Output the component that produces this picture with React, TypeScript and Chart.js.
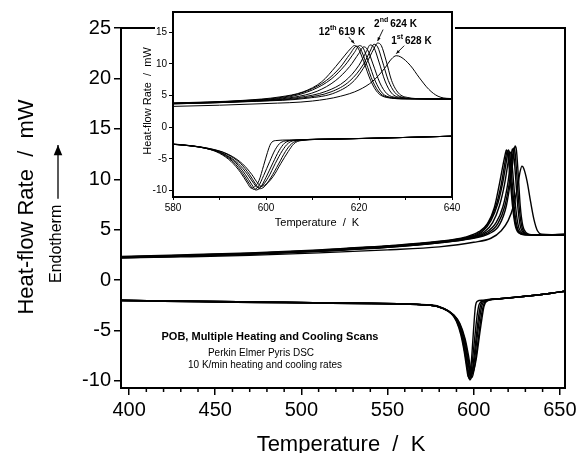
import React, { useEffect, useRef } from 'react';
import { Chart, registerables } from 'chart.js';

Chart.register(...registerables);

const FONT = "'Liberation Sans', Arial, Helvetica, sans-serif";

// ---- axis ticks ----
const mainXTicks = [400, 450, 500, 550, 600, 650];
const mainXMinor = [410, 420, 430, 440, 460, 470, 480, 490, 510, 520, 530, 540, 560, 570, 580, 590, 610, 620, 630, 640];
const mainYTicks = [-10, -5, 0, 5, 10, 15, 20, 25];
const insetXTicks = [580, 590, 600, 610, 620, 630, 640];
const insetYTicks = [-10, -5, 0, 5, 10, 15];

// ---- heating scans (temperature K, heat flow mW) ----
const heat1T = [395, 430, 470, 510, 550, 580, 600, 610, 616, 620, 623, 625.5, 627, 628, 629, 631, 633, 635, 637, 639.5, 645, 653];
const heat1V = [2.2, 2.3, 2.45, 2.7, 3.0, 3.3, 3.75, 4.15, 4.9, 5.9, 7.3, 9.3, 10.8, 11.3, 11.1, 9.8, 7.8, 6.0, 4.9, 4.55, 4.5, 4.55];
const heat2T = [395, 430, 470, 510, 550, 580, 598, 609, 615, 619, 621.5, 623.2, 624, 624.8, 625.8, 627, 628.5, 630.5, 634, 640, 653];
const heat2V = [2.2, 2.35, 2.55, 2.85, 3.25, 3.7, 4.1, 4.6, 5.5, 7.4, 10.0, 12.4, 13.3, 12.9, 10.6, 7.4, 5.4, 4.7, 4.5, 4.45, 4.5];
const heat3T = [395, 430, 470, 510, 550, 580, 597, 608, 614, 618, 621, 622.5, 623.2, 624, 625, 626.3, 627.7, 629.5, 633, 640, 653];
const heat3V = [2.2, 2.35, 2.55, 2.85, 3.25, 3.7, 4.1, 4.65, 5.6, 7.3, 10.0, 12.2, 13.1, 12.7, 10.5, 7.4, 5.5, 4.7, 4.5, 4.45, 4.5];
const heat4T = [395, 430, 470, 510, 550, 580, 597, 607, 613, 617, 620, 621.6, 622.4, 623.2, 624.3, 625.6, 627, 629, 633, 640, 653];
const heat4V = [2.25, 2.4, 2.6, 2.9, 3.3, 3.75, 4.15, 4.7, 5.7, 7.3, 9.8, 12.0, 13.0, 12.6, 10.3, 7.3, 5.4, 4.7, 4.5, 4.45, 4.5];
const heat6T = [395, 430, 470, 510, 550, 580, 596, 606, 611, 615, 618, 620, 621, 621.8, 623, 624.5, 626, 628, 632, 640, 653];
const heat6V = [2.25, 2.4, 2.6, 2.9, 3.3, 3.75, 4.15, 4.75, 5.7, 7.4, 9.6, 11.7, 12.7, 12.3, 10.0, 7.0, 5.3, 4.7, 4.5, 4.45, 4.5];
const heat8T = [395, 430, 470, 510, 550, 580, 596, 605, 610, 614, 617, 619, 620.1, 620.9, 622, 623.5, 625, 627, 631, 640, 653];
const heat8V = [2.3, 2.45, 2.65, 2.95, 3.35, 3.8, 4.2, 4.8, 5.9, 7.6, 9.8, 11.8, 12.9, 12.5, 10.4, 7.3, 5.4, 4.7, 4.5, 4.5, 4.5];
const heat10T = [395, 430, 470, 510, 550, 580, 595, 604, 609, 613, 616, 618, 619.5, 620.3, 621.5, 623, 624.5, 626.5, 630, 640, 653];
const heat10V = [2.3, 2.45, 2.65, 2.95, 3.35, 3.8, 4.2, 4.8, 5.8, 7.4, 9.5, 11.5, 12.8, 12.4, 10.2, 7.2, 5.4, 4.7, 4.5, 4.5, 4.5];
const heat12T = [395, 430, 470, 510, 550, 580, 595, 603, 608, 612, 615, 617, 618.3, 619.0, 619.8, 621, 622.5, 624, 626, 630, 640, 653];
const heat12V = [2.35, 2.5, 2.7, 3.0, 3.4, 3.85, 4.25, 4.8, 5.6, 7.2, 9.6, 11.4, 12.5, 12.9, 12.5, 10.4, 7.4, 5.5, 4.7, 4.5, 4.5, 4.55];

// ---- cooling scans ----
const coolAT = [395, 440, 490, 540, 575, 582, 587, 590, 592.5, 594.5, 596, 596.8, 597.8, 598.5, 599.5, 600.3, 601, 602, 605, 615, 630, 645, 653];
const coolAV = [-2.0, -2.1, -2.2, -2.3, -2.45, -2.75, -3.3, -4.1, -5.4, -7.1, -8.8, -9.6, -9.2, -8.4, -6.0, -4.0, -2.6, -2.1, -2.0, -1.85, -1.6, -1.3, -1.1];
const coolBT = [395, 440, 490, 540, 575, 582, 587, 590, 593, 595, 596.5, 597.3, 598.3, 599.5, 600.8, 602, 603.2, 605.5, 615, 630, 645, 653];
const coolBV = [-2.05, -2.15, -2.25, -2.35, -2.5, -2.8, -3.3, -4.0, -5.5, -7.3, -9.0, -9.8, -9.4, -7.6, -5.4, -3.5, -2.4, -2.05, -1.85, -1.6, -1.3, -1.1];
const coolCT = [395, 440, 490, 540, 575, 582, 587, 590.5, 593.5, 595.5, 597, 597.8, 598.8, 600, 601.5, 602.8, 604, 606, 615, 630, 645, 653];
const coolCV = [-2.0, -2.1, -2.2, -2.3, -2.5, -2.8, -3.3, -4.1, -5.6, -7.4, -9.1, -9.9, -9.5, -7.9, -5.6, -3.7, -2.5, -2.05, -1.85, -1.6, -1.3, -1.1];
const coolDT = [395, 440, 490, 540, 575, 582, 587.5, 591, 594, 596, 597.4, 598.2, 599.2, 600.5, 602, 603.5, 604.8, 606.5, 615, 630, 645, 653];
const coolDV = [-2.05, -2.15, -2.25, -2.35, -2.5, -2.8, -3.4, -4.2, -5.7, -7.4, -8.9, -9.5, -9.2, -7.9, -5.7, -3.7, -2.5, -2.05, -1.85, -1.6, -1.3, -1.1];
const coolET = [395, 440, 490, 540, 575, 583, 588, 591.5, 594.5, 596.5, 597.8, 598.6, 599.6, 601, 602.7, 604.2, 605.5, 607, 615, 630, 645, 653];
const coolEV = [-2.0, -2.1, -2.2, -2.3, -2.5, -2.85, -3.4, -4.2, -5.7, -7.5, -9.0, -9.7, -9.4, -8.0, -5.8, -3.8, -2.6, -2.1, -1.85, -1.6, -1.3, -1.1];
const coolFT = [395, 440, 490, 540, 575, 583, 588.5, 592, 595, 597, 598.2, 599, 600, 601.5, 603.2, 604.8, 606, 607.5, 615, 630, 645, 653];
const coolFV = [-2.0, -2.1, -2.2, -2.3, -2.5, -2.85, -3.45, -4.3, -5.8, -7.5, -8.8, -9.3, -9.0, -7.8, -5.7, -3.8, -2.6, -2.1, -1.85, -1.6, -1.3, -1.1];

// ---- inset peak annotations ----
const annoMain = ['12', '2', '1'];
const annoSup = ['th', 'nd', 'st'];
const annoRest = ['619 K', '624 K', '628 K'];
const annoPeakT = [619, 624, 628];
const annoPeakV = [12.9, 13.3, 11.3];

const scans: [number[], number[]][] = [
  [heat1T, heat1V], [heat2T, heat2V], [heat3T, heat3V], [heat4T, heat4V],
  [heat6T, heat6V], [heat8T, heat8V], [heat10T, heat10V], [heat12T, heat12V],
  [coolAT, coolAV], [coolBT, coolBV], [coolCT, coolCV], [coolDT, coolDV], [coolET, coolEV], [coolFT, coolFV],
];

function makeDatasets(width: number) {
  return scans.map(([T, V]) => ({
    data: T.map((t, i) => ({ x: t, y: V[i] })),
    borderColor: '#000',
    borderWidth: width,
    pointRadius: 0,
    fill: false,
    cubicInterpolationMode: 'monotone' as const,
  }));
}

function arrow(ctx: CanvasRenderingContext2D, x1: number, y1: number, x2: number, y2: number, head: number) {
  ctx.beginPath();
  ctx.moveTo(x1, y1);
  ctx.lineTo(x2, y2);
  ctx.stroke();
  const a = Math.atan2(y2 - y1, x2 - x1);
  ctx.beginPath();
  ctx.moveTo(x2, y2);
  ctx.lineTo(x2 - head * Math.cos(a - 0.4), y2 - head * Math.sin(a - 0.4));
  ctx.lineTo(x2 - head * Math.cos(a + 0.4), y2 - head * Math.sin(a + 0.4));
  ctx.closePath();
  ctx.fill();
}

const mainDecor = {
  id: 'mainDecor',
  afterDraw(chart: any) {
    const { ctx, chartArea: a } = chart;
    ctx.save();
    ctx.strokeStyle = '#000';
    ctx.fillStyle = '#000';
    ctx.lineWidth = 2;
    ctx.strokeRect(a.left, a.top, a.right - a.left, a.bottom - a.top);
    const xs = chart.scales.x;
    ctx.lineWidth = 1.5;
    for (const v of mainXMinor) {
      const px = xs.getPixelForValue(v);
      ctx.beginPath();
      ctx.moveTo(px, a.bottom);
      ctx.lineTo(px, a.bottom + 4);
      ctx.stroke();
    }
    // y title
    ctx.save();
    ctx.translate(27, 207);
    ctx.rotate(-Math.PI / 2);
    ctx.font = `22px ${FONT}`;
    ctx.textAlign = 'center';
    ctx.textBaseline = 'middle';
    ctx.fillText('Heat-flow Rate  /  mW', 0, 0);
    ctx.restore();
    // Endotherm arrow
    ctx.save();
    ctx.translate(57, 283);
    ctx.rotate(-Math.PI / 2);
    ctx.font = `16px ${FONT}`;
    ctx.textAlign = 'left';
    ctx.textBaseline = 'middle';
    ctx.fillText('Endotherm', 0, 0);
    const w = ctx.measureText('Endotherm').width;
    ctx.lineWidth = 1.3;
    arrow(ctx, w + 6, 1, 283 - 145, 1, 11);
    ctx.restore();
    // x title
    ctx.font = `22px ${FONT}`;
    ctx.textAlign = 'center';
    ctx.textBaseline = 'alphabetic';
    ctx.fillText('Temperature  /  K', 341, 451);
    // annotations
    ctx.font = `bold 11px ${FONT}`;
    ctx.fillText('POB, Multiple Heating and Cooling Scans', 270, 340);
    ctx.font = `10px ${FONT}`;
    ctx.fillText('Perkin Elmer Pyris DSC', 261, 356);
    ctx.fillText('10 K/min heating and cooling rates', 265, 368);
    ctx.restore();
  },
};

const insetDecor = {
  id: 'insetDecor',
  beforeDraw(chart: any) {
    const { ctx } = chart;
    ctx.save();
    ctx.fillStyle = '#fff';
    ctx.fillRect(19, 0, 300, chart.height);
    ctx.restore();
  },
  afterDraw(chart: any) {
    const { ctx, chartArea: a } = chart;
    const xs = chart.scales.x;
    const ys = chart.scales.y;
    ctx.save();
    ctx.strokeStyle = '#000';
    ctx.fillStyle = '#000';
    ctx.lineWidth = 2;
    ctx.strokeRect(a.left, a.top, a.right - a.left, a.bottom - a.top);
    // titles
    ctx.save();
    ctx.translate(12, 101);
    ctx.rotate(-Math.PI / 2);
    ctx.font = `11px ${FONT}`;
    ctx.textAlign = 'center';
    ctx.textBaseline = 'middle';
    ctx.fillText('Heat-flow Rate  /  mW', 0, 0);
    ctx.restore();
    ctx.font = `11px ${FONT}`;
    ctx.textAlign = 'center';
    ctx.textBaseline = 'alphabetic';
    ctx.fillText('Temperature  /  K', 181, 226);
    // peak labels
    const labelOff = [[-35.5, -8.5], [-3.5, -14.5], [-5, -10]];
    const tailOff = [[-5.5, -6.5], [5.5, -11.5], [8, -8]];
    ctx.textAlign = 'left';
    ctx.lineWidth = 0.9;
    for (let i = 0; i < annoMain.length; i++) {
      const tx = xs.getPixelForValue(annoPeakT[i]);
      const ty = ys.getPixelForValue(annoPeakV[i]) - 2;
      let x = tx + labelOff[i][0];
      const y = ty + labelOff[i][1];
      ctx.font = `bold 10px ${FONT}`;
      ctx.fillText(annoMain[i], x, y);
      x += ctx.measureText(annoMain[i]).width;
      ctx.font = `bold 7px ${FONT}`;
      ctx.fillText(annoSup[i], x, y - 5);
      x += ctx.measureText(annoSup[i]).width + 2;
      ctx.font = `bold 10px ${FONT}`;
      ctx.fillText(annoRest[i], x, y);
      arrow(ctx, tx + tailOff[i][0], ty + tailOff[i][1], tx, ty, 4);
    }
    ctx.restore();
  },
};

export default function App() {
  const mainRef = useRef<HTMLCanvasElement | null>(null);
  const insetRef = useRef<HTMLCanvasElement | null>(null);

  useEffect(() => {
    const main = new Chart(mainRef.current as HTMLCanvasElement, {
      type: 'line',
      data: { datasets: makeDatasets(1.4) as any },
      options: {
        animation: false,
        responsive: false,
        devicePixelRatio: 1,
        events: [],
        layout: { padding: { left: 0, top: 28, right: 12, bottom: 0 } },
        plugins: { legend: { display: false }, tooltip: { enabled: false } },
        scales: {
          x: {
            type: 'linear',
            min: 395.3,
            max: 653,
            afterBuildTicks: (s: any) => { s.ticks = mainXTicks.map((v) => ({ value: v })); },
            afterFit: (s: any) => { s.height = 65; s.paddingLeft = 0; s.paddingRight = 0; },
            ticks: { font: { family: FONT, size: 20 }, color: '#000', padding: 3, maxRotation: 0, autoSkip: false },
            grid: { drawOnChartArea: false, drawTicks: true, tickLength: 7, color: '#000', lineWidth: 1.5 },
            border: { display: true, color: '#000', width: 2 },
          },
          y: {
            type: 'linear',
            min: -10.7,
            max: 25,
            afterBuildTicks: (s: any) => { s.ticks = mainYTicks.map((v) => ({ value: v })); },
            afterFit: (s: any) => { s.width = 121; s.paddingTop = 0; s.paddingBottom = 0; },
            ticks: { font: { family: FONT, size: 20 }, color: '#000', padding: 3, autoSkip: false },
            grid: { drawOnChartArea: false, drawTicks: true, tickLength: 7, color: '#000', lineWidth: 1.5 },
            border: { display: true, color: '#000', width: 2 },
          },
        },
      } as any,
      plugins: [mainDecor],
    });

    const inset = new Chart(insetRef.current as HTMLCanvasElement, {
      type: 'line',
      data: { datasets: makeDatasets(1) as any },
      options: {
        animation: false,
        responsive: false,
        devicePixelRatio: 1,
        events: [],
        layout: { padding: { left: 0, top: 12, right: 10, bottom: 0 } },
        plugins: { legend: { display: false }, tooltip: { enabled: false } },
        scales: {
          x: {
            type: 'linear',
            min: 580,
            max: 640,
            afterBuildTicks: (s: any) => { s.ticks = insetXTicks.map((v) => ({ value: v })); },
            afterFit: (s: any) => { s.height = 35; s.paddingLeft = 0; s.paddingRight = 0; },
            ticks: {
              font: { family: FONT, size: 10 }, color: '#000', padding: 2, maxRotation: 0, autoSkip: false,
              callback: (v: any) => (Number(v) % 20 === 0 ? String(v) : ''),
            },
            grid: { drawOnChartArea: false, drawTicks: true, tickLength: 3, color: '#000', lineWidth: 1 },
            border: { display: true, color: '#000', width: 2 },
          },
          y: {
            type: 'linear',
            min: -11,
            max: 18.2,
            afterBuildTicks: (s: any) => { s.ticks = insetYTicks.map((v) => ({ value: v })); },
            afterFit: (s: any) => { s.width = 37; s.paddingTop = 0; s.paddingBottom = 0; },
            ticks: { font: { family: FONT, size: 10 }, color: '#000', padding: 2, autoSkip: false },
            grid: { drawOnChartArea: false, drawTicks: true, tickLength: 4, color: '#000', lineWidth: 1 },
            border: { display: true, color: '#000', width: 2 },
          },
        },
      } as any,
      plugins: [insetDecor],
    });

    return () => {
      main.destroy();
      inset.destroy();
    };
  }, []);

  return (
    <div style={{ position: 'fixed', left: 0, top: 0, width: 577, height: 453, background: '#fff' }}>
      <canvas ref={mainRef} width={577} height={453} style={{ position: 'absolute', left: 0, top: 0, width: 577, height: 453 }} />
      <canvas ref={insetRef} width={326} height={232} style={{ position: 'absolute', left: 136, top: 0, width: 326, height: 232 }} />
    </div>
  );
}
